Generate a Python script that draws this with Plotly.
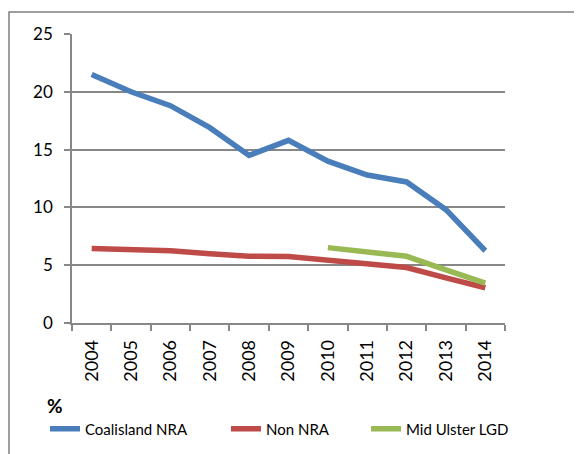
import plotly.graph_objects as go

years = ["2004", "2005", "2006", "2007", "2008", "2009", "2010", "2011", "2012", "2013", "2014"]
coalisland = [21.5, 20.0, 18.8, 16.9, 14.5, 15.8, 14.0, 12.8, 12.2, 9.8, 6.25]
non_nra = [6.45, 6.35, 6.25, 6.0, 5.78, 5.75, 5.4, 5.1, 4.8, 3.9, 3.05]
mid_ulster = [None, None, None, None, None, None, 6.52, 6.1, 5.77, 4.6, 3.45]

FONT = "Lato"
GRID = "#878787"
OFF = 8  # page body margin

W, H = 582 - OFF, 454 - OFF
L, R, T, B = 72 - OFF, 505 - OFF, 34 - OFF, 323 - OFF
pw, ph = R - L, B - T

def px_x(x):
    return (x - OFF - L) / pw

def px_y(y):
    return (B - (y - OFF)) / ph

fig = go.Figure()
fig.add_trace(go.Scatter(x=years, y=coalisland, mode="lines", name="Coalisland NRA",
                         line=dict(color="#4A7EBB", width=5.5), legend="legend"))
fig.add_trace(go.Scatter(x=years, y=non_nra, mode="lines", name="Non NRA",
                         line=dict(color="#BE4B48", width=5.5), legend="legend2"))
fig.add_trace(go.Scatter(x=years, y=mid_ulster, mode="lines", name="Mid Ulster LGD",
                         line=dict(color="#98B954", width=5.5), legend="legend3"))

def leg(xs):
    return dict(orientation="h", x=px_x(xs), y=px_y(429), xanchor="left", yanchor="middle",
                font=dict(size=15, family=FONT), bgcolor="rgba(0,0,0,0)", borderwidth=0)

fig.update_layout(
    width=W, height=H,
    margin=dict(l=L, r=W - R, t=T, b=H - B, autoexpand=False),
    paper_bgcolor="white", plot_bgcolor="white",
    font=dict(family=FONT, color="black", size=15),
    showlegend=True,
    legend=leg(45), legend2=leg(226), legend3=leg(366),
    xaxis=dict(type="category", range=[-0.5, 10.5], showgrid=False,
               showline=True, linecolor=GRID, linewidth=1.5,
               ticks="outside", tickson="boundaries", ticklen=6, tickcolor=GRID, tickwidth=1.5,
               tickangle=-90, tickfont=dict(size=18, family=FONT), ticklabelstandoff=8,
               automargin=False, fixedrange=True),
    yaxis=dict(range=[0, 25], dtick=5, tick0=0, showgrid=True, gridcolor=GRID, gridwidth=1.5,
               showline=True, linecolor=GRID, linewidth=1.5,
               ticks="outside", ticklen=6, tickcolor=GRID, tickwidth=1.5,
               tickfont=dict(size=17, family=FONT), ticklabelstandoff=8,
               automargin=False, zeroline=False, fixedrange=True),
    shapes=[dict(type="rect", xref="paper", yref="paper",
                 x0=px_x(9), x1=px_x(620), y0=px_y(480), y1=px_y(12),
                 line=dict(color="#7f7f7f", width=1.5), fillcolor="rgba(0,0,0,0)", layer="below")],
    annotations=[dict(text="<b>%</b>", xref="paper", yref="paper", x=px_x(55), y=px_y(405),
                      xanchor="center", yanchor="middle", showarrow=False,
                      font=dict(size=19, family=FONT))],
)

fig.write_html("out.html")
